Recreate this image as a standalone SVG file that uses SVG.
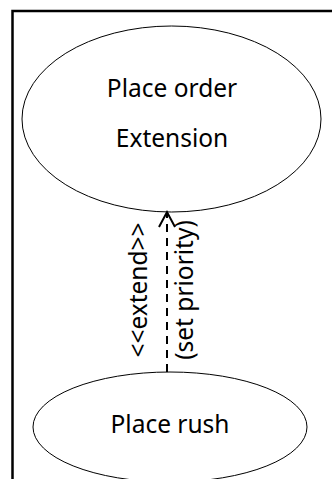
<svg xmlns="http://www.w3.org/2000/svg" width="332" height="479" viewBox="0 0 332 479">
  <style>
    .uc { fill: #ffffff; stroke: #000000; stroke-width: 1; }
    .label { font-family: "Noto Sans", "DejaVu Sans", sans-serif; font-size: 24.5px; fill: #000000; text-anchor: middle; }
    .edge { fill: none; stroke: #000000; stroke-width: 2; }
  </style>
  <rect width="332" height="479" fill="#ffffff"/>

  <!-- system boundary -->
  <path d="M12.5,479 V11 H332" fill="none" stroke="#000000" stroke-width="2.5"/>

  <g id="place-order">
    <ellipse class="uc" cx="171.5" cy="119" rx="149.5" ry="93"/>
    <text class="label" x="172" y="97">Place order</text>
    <text class="label" x="172" y="147">Extension</text>
  </g>

  <g id="place-rush">
    <ellipse class="uc" cx="170" cy="427" rx="137" ry="55"/>
    <text class="label" x="170" y="433">Place rush</text>
  </g>

  <g id="connectors">
    <!-- dashed extend relation, open arrowhead at the base use case -->
    <path class="edge" d="M167,372 V213" stroke-dasharray="8,6"/>
    <path class="edge" d="M159,227 L167,212 L175,227"/>
    <text class="label" transform="translate(147,290) rotate(-90)" x="0" y="0">&lt;&lt;extend&gt;&gt;</text>
    <text class="label" transform="translate(193,290) rotate(-90)" x="0" y="0">(set priority)</text>
  </g>
</svg>
